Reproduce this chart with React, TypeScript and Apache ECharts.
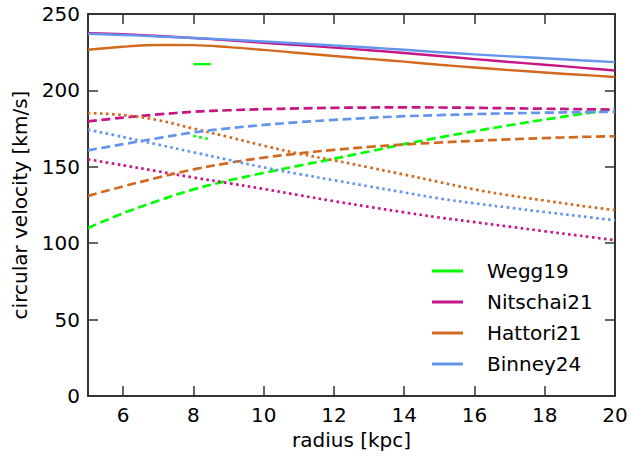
import React, { useEffect, useRef } from "react";
import * as echarts from "echarts";

const radius = [5, 6, 7, 8, 9, 10, 11, 12, 13, 14, 15, 16, 17, 18, 19, 20];
const xTickLabels = ["6", "8", "10", "12", "14", "16", "18", "20"];
const yTickLabels = ["0", "50", "100", "150", "200", "250"];

// Wegg19
const weggRadius = [8.0, 8.5];
const weggSolid = [217.2, 217.2];
const weggDashed = [110, 119.6, 127.8, 135.2, 141, 146, 150.7, 155.3, 160, 164.8, 169.2, 173.3, 177.2, 180.9, 184.4, 187.6];
const weggDotted = [170.2, 167.8];

// Nitschai21
const nitSolid = [237.5, 236.8, 235.6, 234.3, 232.8, 231.2, 229.6, 228, 226.3, 224.5, 222.5, 220.5, 218.6, 216.8, 214.9, 213];
const nitDashed = [179.7, 182.2, 184.3, 186, 187, 187.7, 188.2, 188.6, 188.8, 188.9, 188.8, 188.6, 188.3, 188, 187.7, 187.4];
const nitDotted = [154.9, 151, 147, 143, 139.3, 135.5, 131.5, 127.5, 123.8, 120.2, 116.8, 113.8, 110.8, 107.8, 104.9, 102];

// Hattori21
const hatSolid = [226.6, 228.6, 229.7, 229.6, 228.3, 226.5, 224.5, 222.5, 220.6, 218.8, 216.8, 215, 213.3, 211.7, 210.2, 208.8];
const hatDashed = [131, 137.2, 143, 148.3, 152.5, 156, 158.8, 161.1, 163, 164.6, 165.9, 167, 168, 168.8, 169.5, 170];
const hatDotted = [185.2, 183.9, 180.5, 175, 169.5, 163.8, 158.6, 154.2, 149.6, 144.9, 140, 135.2, 131.3, 127.9, 124.6, 121.6];

// Binney24
const binSolid = [237, 236.3, 235.3, 234.3, 233.2, 232, 230.7, 229.4, 228.1, 226.6, 225, 223.6, 222.3, 221, 219.7, 218.5];
const binDashed = [160.8, 164.8, 168.8, 172.5, 175.2, 177.4, 179.2, 180.7, 182, 183.1, 183.8, 184.5, 185, 185.4, 185.7, 186];
const binDotted = [174.3, 169.5, 164.5, 159.5, 154.5, 149.6, 145.3, 141.2, 137.2, 133.2, 129.3, 126.1, 123.2, 120.4, 117.7, 115];

const models = ["Wegg19", "Nitschai21", "Hattori21", "Binney24"];
const colors = ["#00ff00", "#c71585", "#d2691e", "#6495ed"];

const FONT = "DejaVu Sans";
const AXIS_COLOR = "#333333";

function pairs(xs: number[], ys: number[]) {
  return xs.map((x, i) => [x, ys[i]]);
}

function lineSeries(name: string, color: string, xs: number[], ys: number[], dash: any, width: number) {
  return {
    name,
    type: "line",
    data: pairs(xs, ys),
    showSymbol: false,
    symbol: "none",
    smooth: 0.35,
    color,
    itemStyle: { color },
    lineStyle: { color, width, type: dash, cap: "butt" },
    silent: true,
    z: 3,
  };
}

export default function App() {
  const ref = useRef<HTMLDivElement>(null);
  useEffect(() => {
    if (!ref.current) return;
    const chart = echarts.init(ref.current, undefined, { renderer: "svg" });
    const DASH = [9, 4.5];
    const DOT = [2.6, 3.4];
    const WS = 2.4;
    const WD = 2.7;
    const series: any[] = [
      lineSeries("Wegg19", colors[0], weggRadius, weggSolid, "solid", WS),
      lineSeries("Wegg19 dashed", colors[0], radius, weggDashed, DASH, WD),
      lineSeries("Wegg19 dotted", colors[0], weggRadius, weggDotted, DOT, WD),
      lineSeries("Nitschai21", colors[1], radius, nitSolid, "solid", WS),
      lineSeries("Nitschai21 dashed", colors[1], radius, nitDashed, DASH, WD),
      lineSeries("Nitschai21 dotted", colors[1], radius, nitDotted, DOT, WD),
      lineSeries("Hattori21", colors[2], radius, hatSolid, "solid", WS),
      lineSeries("Hattori21 dashed", colors[2], radius, hatDashed, DASH, WD),
      lineSeries("Hattori21 dotted", colors[2], radius, hatDotted, DOT, WD),
      lineSeries("Binney24", colors[3], radius, binSolid, "solid", WS),
      lineSeries("Binney24 dashed", colors[3], radius, binDashed, DASH, WD),
      lineSeries("Binney24 dotted", colors[3], radius, binDotted, DOT, WD),
    ];
    const axisCommon = {
      axisLine: { show: true, onZero: false, lineStyle: { color: AXIS_COLOR, width: 2 } },
      axisTick: { show: true, inside: true, length: 10, lineStyle: { color: AXIS_COLOR, width: 1.5 } },
      splitLine: { show: false },
    };
    chart.setOption({
      animation: false,
      backgroundColor: "#ffffff",
      textStyle: { fontFamily: FONT },
      grid: { left: 88, right: 16, top: 14, bottom: 61, containLabel: false },
      legend: {
        data: models,
        left: 427,
        top: 256,
        orient: "vertical",
        icon: "rect",
        itemWidth: 31,
        itemHeight: 3,
        itemGap: 11,
        selectedMode: false,
        textStyle: { fontFamily: FONT, fontSize: 20, color: "#000", lineHeight: 20, padding: [0, 0, 0, 19] },
      },
      xAxis: [
        {
          type: "value",
          min: 5,
          max: 20,
          splitNumber: 8,
          position: "bottom",
          name: "radius [kpc]",
          nameLocation: "middle",
          nameGap: 33,
          nameTextStyle: { fontFamily: FONT, fontSize: 20, color: "#000" },
          ...axisCommon,
          axisLabel: {
            show: true,
            showMinLabel: false,
            margin: 9,
            fontFamily: FONT,
            fontSize: 20,
            color: "#000",
            formatter: (v: number) => (xTickLabels.includes(String(v)) ? String(v) : ""),
          },
        },
        {
          type: "value",
          min: 5,
          max: 20,
          splitNumber: 8,
          position: "top",
          ...axisCommon,
          axisLabel: { show: false },
        },
      ],
      yAxis: [
        {
          type: "value",
          min: 0,
          max: 250,
          interval: 50,
          position: "left",
          name: "circular velocity [km/s]",
          nameLocation: "middle",
          nameGap: 58,
          nameTextStyle: { fontFamily: FONT, fontSize: 20, color: "#000" },
          ...axisCommon,
          axisLabel: {
            show: true,
            margin: 8,
            fontFamily: FONT,
            fontSize: 20,
            color: "#000",
            formatter: (v: number) => (yTickLabels.includes(String(v)) ? String(v) : ""),
          },
        },
        {
          type: "value",
          min: 0,
          max: 250,
          interval: 50,
          position: "right",
          ...axisCommon,
          axisLabel: { show: false },
        },
      ],
      series,
    });
    return () => chart.dispose();
  }, []);
  return (
    <div
      ref={ref}
      style={{ position: "fixed", left: 0, top: 0, width: 631, height: 457, background: "#fff" }}
    />
  );
}
